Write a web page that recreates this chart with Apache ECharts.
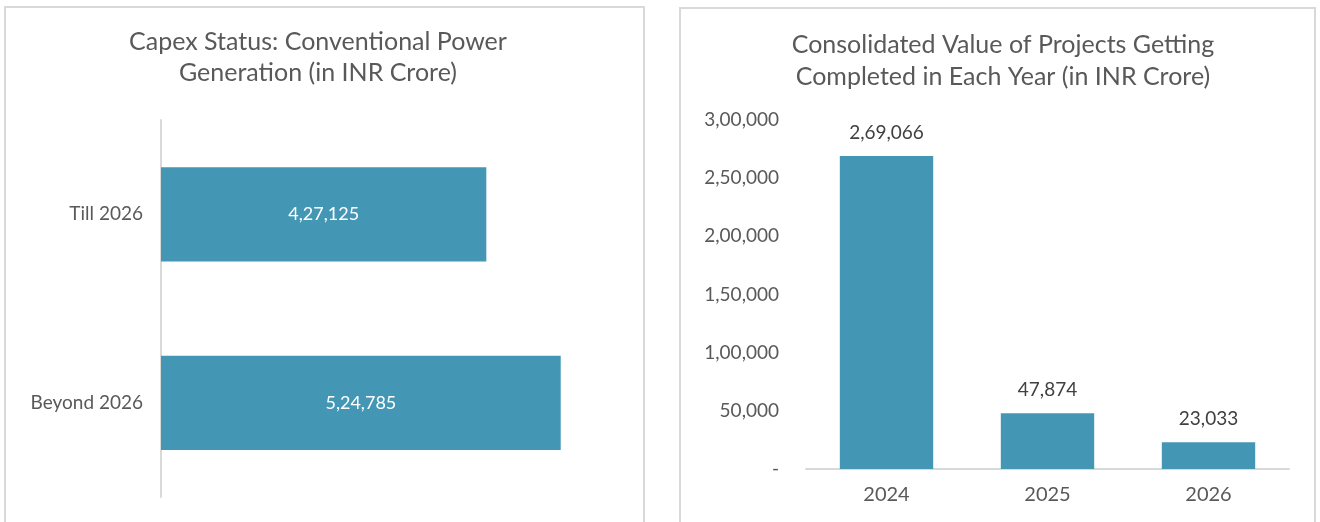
<!DOCTYPE html>
<html>
<head>
<meta charset="utf-8">
<script src="https://cdn.jsdelivr.net/npm/echarts@6/dist/echarts.min.js"></script>
<style>
  html, body { margin: 0; padding: 0; background: #ffffff; }
  #chart { width: 1320px; height: 522px; }
</style>
</head>
<body>
<div id="chart"></div>
<script>
// Capex status by period (INR Crore)
const capexCategories = ['Till 2026', 'Beyond 2026'];
const capexValues = [427125, 524785];

// Projects completed per year (INR Crore)
const yearCategories = ['2024', '2025', '2026'];
const yearValues = [269066, 47874, 23033];

// Value-axis ticks for the yearly chart
const yearTicks = [0, 50000, 100000, 150000, 200000, 250000, 300000];

// Indian digit grouping: 2,69,066 / 3,00,000
function indianFormat(n) {
  const s = String(Math.round(n));
  if (s.length <= 3) return s;
  const last3 = s.slice(-3);
  let rest = s.slice(0, -3);
  const parts = [];
  while (rest.length > 2) {
    parts.unshift(rest.slice(-2));
    rest = rest.slice(0, -2);
  }
  if (rest.length) parts.unshift(rest);
  return parts.join(',') + ',' + last3;
}

const FONT = 'Lato';
const TEXT = '#595959';
const BAR = '#4397b5';
const LINE = '#d9d9d9';

const chart = echarts.init(document.getElementById('chart'));
chart.setOption({
  animation: false,
  textStyle: { fontFamily: FONT },
  graphic: [
    { type: 'rect', shape: { x: 5, y: 7, width: 639, height: 530 },
      style: { fill: 'none', stroke: LINE, lineWidth: 2 } },
    { type: 'rect', shape: { x: 680, y: 8, width: 635, height: 530 },
      style: { fill: 'none', stroke: LINE, lineWidth: 2 } }
  ],
  title: [
    { text: 'Capex Status: Conventional Power\nGeneration (in INR Crore)',
      left: 313, top: 21, textAlign: 'center',
      textStyle: { fontFamily: FONT, fontSize: 25, fontWeight: 'normal', color: TEXT, lineHeight: 31 } },
    { text: 'Consolidated Value of Projects Getting\nCompleted in Each Year (in INR Crore)',
      left: 998, top: 24, textAlign: 'center',
      textStyle: { fontFamily: FONT, fontSize: 25, fontWeight: 'normal', color: TEXT, lineHeight: 32 } }
  ],
  grid: [
    { left: 161, right: 702, top: 120, bottom: 25 },
    { left: 806, right: 31, top: 120, bottom: 53 }
  ],
  xAxis: [
    { type: 'value', gridIndex: 0, min: 0, max: 600000, show: false },
    { type: 'category', gridIndex: 1, data: yearCategories,
      axisLine: { lineStyle: { color: LINE, width: 2 } },
      axisTick: { show: false },
      axisLabel: { color: TEXT, fontSize: 20, margin: 16, fontFamily: FONT } }
  ],
  yAxis: [
    { type: 'category', gridIndex: 0, data: capexCategories, inverse: true,
      axisLine: { show: true, lineStyle: { color: LINE, width: 2 } },
      axisTick: { show: false },
      axisLabel: { color: TEXT, fontSize: 19, margin: 18, fontFamily: FONT } },
    { type: 'value', gridIndex: 1, min: yearTicks[0], max: yearTicks[yearTicks.length - 1],
      interval: yearTicks[1] - yearTicks[0],
      splitLine: { show: false },
      axisLine: { show: false },
      axisTick: { show: false },
      axisLabel: { color: TEXT, fontSize: 19, margin: 27, fontFamily: FONT,
        formatter: v => v === 0 ? '-' : indianFormat(v) } }
  ],
  series: [
    { type: 'bar', xAxisIndex: 0, yAxisIndex: 0, data: capexValues,
      barCategoryGap: '50%', itemStyle: { color: BAR },
      label: { show: true, position: 'inside', color: '#ffffff', fontSize: 18, fontFamily: FONT,
        formatter: p => indianFormat(p.value) } },
    { type: 'bar', xAxisIndex: 1, yAxisIndex: 1, data: yearValues,
      barCategoryGap: '42%', itemStyle: { color: BAR },
      label: { show: true, position: 'top', distance: 14, color: '#404040', fontSize: 19, fontFamily: FONT,
        formatter: p => indianFormat(p.value) } }
  ]
});
</script>
</body>
</html>
